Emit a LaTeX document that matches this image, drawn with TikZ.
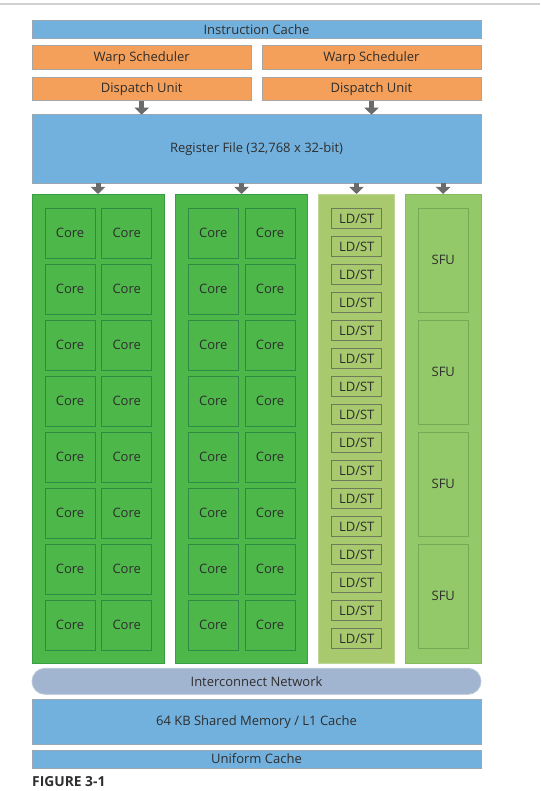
\documentclass[tikz,border=0pt]{standalone}
\usepackage{fontspec}
\setmainfont{Open Sans}
\usetikzlibrary{arrows.meta}
\definecolor{txt}{HTML}{2E2E2E}
\definecolor{bluefill}{HTML}{72B1DD}
\definecolor{blueedge}{HTML}{9AA8B4}
\definecolor{orfill}{HTML}{F4A05A}
\definecolor{oredge}{HTML}{A9A6A2}
\definecolor{grfill}{HTML}{4DB74A}
\definecolor{gredge}{HTML}{3A9E45}
\definecolor{coreedge}{HTML}{2F8A45}
\definecolor{lsfill}{HTML}{A8C96E}
\definecolor{lsedge}{HTML}{BDD696}
\definecolor{lsbox}{HTML}{6E7B5A}
\definecolor{sffill}{HTML}{94C96A}
\definecolor{sfedge}{HTML}{86BC5E}
\definecolor{sfbox}{HTML}{74AA56}
\definecolor{icfill}{HTML}{A2B5D0}
\definecolor{icedge}{HTML}{B8C6D8}
\definecolor{arrgray}{HTML}{6B6B6B}
\tikzset{
  blk/.style={anchor=north west, inner sep=0pt, outer sep=0pt, line width=0.8pt, text=txt, font=\fontsize{13}{14}\selectfont},
  bluebox/.style={blk, fill=bluefill, draw=blueedge},
  orbox/.style={blk, fill=orfill, draw=oredge},
  corecol/.style={blk, fill=grfill, draw=gredge},
  corebox/.style={blk, draw=coreedge, minimum width=50pt, minimum height=50pt},
  lscol/.style={blk, fill=lsfill, draw=lsedge},
  lsboxst/.style={blk, draw=lsbox, minimum width=50pt, minimum height=20.4pt},
  sfcol/.style={blk, fill=sffill, draw=sfedge},
  sfboxst/.style={blk, draw=sfbox, minimum width=50pt, minimum height=104pt},
  netbox/.style={blk, fill=icfill, draw=icedge, rounded corners=13pt},
  arr/.style={draw=arrgray, line width=5pt, -{Triangle[width=14pt,length=7pt]}}
}
\begin{document}
\begin{tikzpicture}[x=1pt,y=-1pt]
\useasboundingbox (0,0) rectangle (540,791);
\fill[white] (0,0) rectangle (540,791);
\draw[black!18, line width=1.2pt] (0,4) -- (540,4);
% top blocks
\node[bluebox, minimum width=449pt, minimum height=18.3pt] (ic) at (32,20) {Instruction Cache};
\node[orbox, minimum width=219.4pt, minimum height=24pt] (ws1) at (32,45.7) {Warp Scheduler};
\node[orbox, minimum width=219pt, minimum height=24pt] (ws2) at (262,45.7) {Warp Scheduler};
\node[orbox, minimum width=219.4pt, minimum height=23.7pt] (du1) at (32,77) {Dispatch Unit};
\node[orbox, minimum width=219pt, minimum height=23.7pt] (du2) at (262,77) {Dispatch Unit};
\node[bluebox, minimum width=449pt, minimum height=68.3pt] (rf) at (32,114.7) {Register File (32,768 x 32-bit)};
% columns
\node[corecol, minimum width=132pt, minimum height=469.3pt] (c1) at (32,194) {};
\node[corecol, minimum width=131.6pt, minimum height=469.3pt] (c2) at (175.7,194) {};
\node[lscol, minimum width=75.6pt, minimum height=469.3pt] (ls) at (318.7,194) {};
\node[sfcol, minimum width=75.7pt, minimum height=469.3pt] (sf) at (405.3,194) {};
% cores
\foreach \r in {0,...,7}{
  \pgfmathsetmacro{\yy}{208.3+56*\r}
  \node[corebox] (core-1-\r-a) at (45,\yy) {Core};
  \node[corebox] (core-1-\r-b) at (101.7,\yy) {Core};
  \node[corebox] (core-2-\r-a) at (188.3,\yy) {Core};
  \node[corebox] (core-2-\r-b) at (245,\yy) {Core};
}
\foreach \r in {0,...,15}{
  \pgfmathsetmacro{\yy}{208.3+28*\r}
  \node[lsboxst] (ldst-\r) at (331.7,\yy) {LD/ST};
}
\foreach \r in {0,...,3}{
  \pgfmathsetmacro{\yy}{208.3+112*\r}
  \node[sfboxst] (sfu-\r) at (418.3,\yy) {SFU};
}
% bottom blocks
\node[netbox, minimum width=449pt, minimum height=26pt] (net) at (32,668.3) {Interconnect Network};
\node[bluebox, minimum width=449pt, minimum height=45pt] (sm) at (32,699.3) {64 KB Shared Memory / L1 Cache};
\node[bluebox, minimum width=449pt, minimum height=18pt] (uc) at (32,750) {Uniform Cache};
\node[anchor=west, inner sep=0pt, text=txt, font=\fontsize{13.8}{15}\selectfont\bfseries] (fig) at (32,782) {FIGURE 3-1};
% arrows
\draw[arr] (du1.south) -- (du1.south |- rf.north);
\draw[arr] (du2.south) -- (du2.south |- rf.north);
\draw[arr] (rf.south -| c1.north) -- (c1.north);
\draw[arr] (rf.south -| c2.north) -- (c2.north);
\draw[arr] (rf.south -| ls.north) -- (ls.north);
\draw[arr] (rf.south -| sf.north) -- (sf.north);
\end{tikzpicture}
\end{document}
